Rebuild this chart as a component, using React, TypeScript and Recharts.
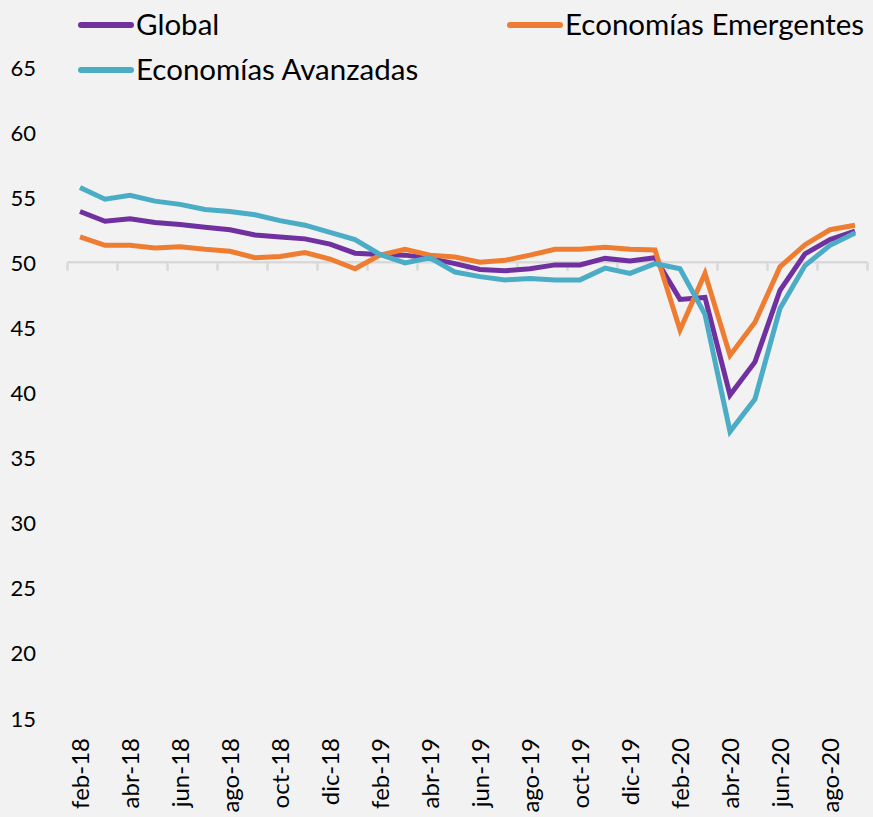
import React from 'react';
import { LineChart, Line, XAxis, YAxis, ReferenceLine, Legend } from 'recharts';

const months = [
  'feb-18', 'mar-18', 'abr-18', 'may-18', 'jun-18', 'jul-18', 'ago-18', 'sep-18',
  'oct-18', 'nov-18', 'dic-18', 'ene-19', 'feb-19', 'mar-19', 'abr-19', 'may-19',
  'jun-19', 'jul-19', 'ago-19', 'sep-19', 'oct-19', 'nov-19', 'dic-19', 'ene-20',
  'feb-20', 'mar-20', 'abr-20', 'may-20', 'jun-20', 'jul-20', 'ago-20', 'sep-20',
];

const globalValues = [
  53.9, 53.15, 53.35, 53.05, 52.9, 52.7, 52.5, 52.1,
  51.95, 51.8, 51.4, 50.7, 50.6, 50.55, 50.3, 49.9,
  49.45, 49.35, 49.5, 49.8, 49.8, 50.3, 50.1, 50.35,
  47.15, 47.3, 39.8, 42.35, 47.85, 50.65, 51.75, 52.4,
];

const emergentesValues = [
  51.95, 51.3, 51.3, 51.1, 51.2, 51.0, 50.85, 50.35,
  50.45, 50.75, 50.25, 49.5, 50.55, 51.0, 50.55, 50.4,
  50.0, 50.15, 50.55, 51.0, 51.0, 51.15, 51.0, 50.95,
  44.8, 49.15, 42.85, 45.4, 49.65, 51.35, 52.5, 52.85,
];

const avanzadasValues = [
  55.75, 54.85, 55.15, 54.7, 54.45, 54.05, 53.9, 53.65,
  53.2, 52.85, 52.3, 51.75, 50.6, 49.95, 50.35, 49.25,
  48.9, 48.65, 48.75, 48.65, 48.65, 49.55, 49.15, 49.9,
  49.5, 46.0, 37.0, 39.5, 46.45, 49.75, 51.3, 52.25,
];

const seriesNames = ['Global', 'Economías Emergentes', 'Economías Avanzadas'];
const yTicks = [15, 20, 25, 30, 35, 40, 45, 50, 55, 60, 65];
const xTickIdx = months.map((_, i) => i).filter((i) => i % 2 === 0);
const boundaryTicks = [...months.map((_, i) => i - 0.5).filter((_, i) => i % 2 === 0), months.length - 0.5];

const data = months.map((m, i) => ({
  idx: i,
  month: m,
  global: globalValues[i],
  emergentes: emergentesValues[i],
  avanzadas: avanzadasValues[i],
}));

const FONT = 'Lato, "Noto Sans", sans-serif';
const COLORS = { global: '#7030a0', emergentes: '#ef7d31', avanzadas: '#4bacc6' };
const legendSlots = [
  { x: 78, y: 25 },
  { x: 507, y: 25 },
  { x: 78, y: 70 },
];

const LegendContent = (props: any) => {
  const payload = props.payload || [];
  return (
    <svg width={873} height={95} style={{ display: 'block' }}>
      {payload.map((p: any, i: number) => {
        const slotIdx = seriesNames.indexOf(p.value);
        const s = legendSlots[slotIdx >= 0 ? slotIdx : i];
        return (
          <g key={i}>
            <line x1={s.x + 3} x2={s.x + 53} y1={s.y} y2={s.y} stroke={p.color} strokeWidth={6} strokeLinecap="round" />
            <text x={s.x + 58} y={s.y + 10} fontSize={29.5} fontFamily={FONT} fill="#000">
              {p.value}
            </text>
          </g>
        );
      })}
    </svg>
  );
};

const YTick = (props: any) => {
  const { y, payload } = props;
  return (
    <text x={36} y={y} textAnchor="end" dominantBaseline="central" fontSize={22} fontFamily={FONT} fill="#000">
      {payload.value}
    </text>
  );
};

const XTick = (props: any) => {
  const { x, payload } = props;
  return (
    <text
      transform={`translate(${x},738) rotate(-90)`}
      textAnchor="end"
      dy="0.36em"
      fontSize={24}
      fontFamily={FONT}
      fill="#000"
    >
      {months[payload.value]}
    </text>
  );
};

export default function App() {
  return (
    <div style={{ position: 'absolute', left: 0, top: 0, width: 873, height: 817, background: '#f2f2f2', overflow: 'hidden' }}>
      <LineChart width={873} height={817} data={data} margin={{ top: 67, right: 5.5, bottom: 0, left: 0 }}>
        <XAxis
          dataKey="idx"
          type="number"
          domain={[-0.5, months.length - 0.5]}
          ticks={xTickIdx}
          tick={<XTick />}
          axisLine={false}
          tickLine={false}
          height={99}
          interval={0}
        />
        <YAxis
          type="number"
          domain={[15, 65]}
          ticks={yTicks}
          tick={<YTick />}
          axisLine={false}
          tickLine={false}
          width={67.5}
          interval={0}
        />
        <ReferenceLine y={50} stroke="#d9d9d9" strokeWidth={2.5} />
        {boundaryTicks.map((b) => (
          <ReferenceLine
            key={b}
            segment={[{ x: b, y: 50 }, { x: b, y: 49.35 }]}
            stroke="#d9d9d9"
            strokeWidth={2.5}
          />
        ))}
        <Legend
          verticalAlign="middle"
          layout="horizontal"
          content={<LegendContent />}
          wrapperStyle={{ top: 0, left: 0, width: 873, height: 95 }}
        />
        <Line dataKey="global" name={seriesNames[0]} stroke={COLORS.global} strokeWidth={5} dot={false} isAnimationActive={false} />
        <Line dataKey="emergentes" name={seriesNames[1]} stroke={COLORS.emergentes} strokeWidth={5} dot={false} isAnimationActive={false} />
        <Line dataKey="avanzadas" name={seriesNames[2]} stroke={COLORS.avanzadas} strokeWidth={5} dot={false} isAnimationActive={false} />
      </LineChart>
    </div>
  );
}
